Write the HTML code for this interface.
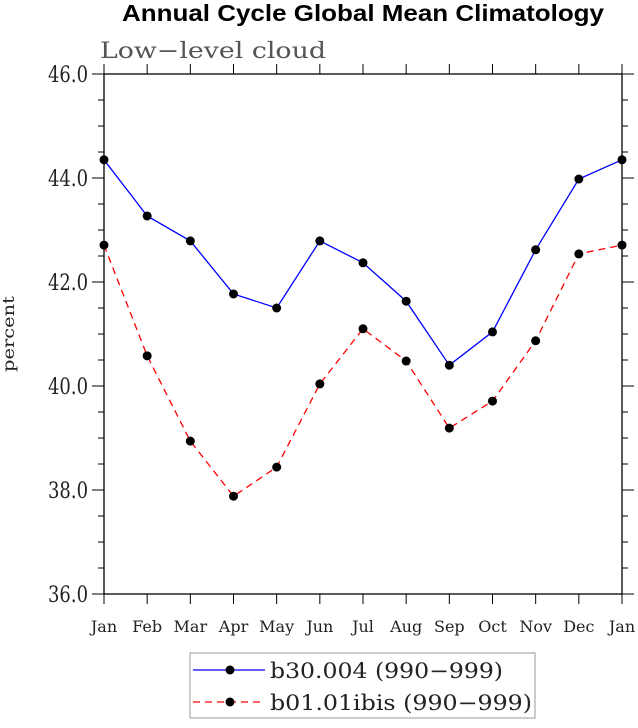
<!DOCTYPE html>
<html><head><meta charset="utf-8"><style>
body{margin:0;background:#fff}
text{font-family:"DejaVu Serif","Liberation Serif",serif}
</style></head><body>
<svg id="c" width="638" height="723" xmlns="http://www.w3.org/2000/svg">
<text x="122" y="21" font-weight="bold" font-size="23" textLength="482" lengthAdjust="spacingAndGlyphs" style="font-family:'Liberation Sans',sans-serif">Annual Cycle Global Mean Climatology</text>
<text x="100" y="58" font-size="22" fill="#555" textLength="226" lengthAdjust="spacingAndGlyphs">Low−level cloud</text>
<text x="14" y="334" font-size="16" fill="#222" text-anchor="middle" textLength="76" lengthAdjust="spacingAndGlyphs" transform="rotate(-90 14 334)">percent</text>
<g id="g"></g>
<rect x="190" y="653" width="345" height="65" fill="none" stroke="#999"/>
<g>
<line x1="193" y1="670" x2="265" y2="670" stroke="#00f" stroke-width="1.3"/>
<circle cx="230" cy="670" r="4.5"/>
<text x="270" y="678" font-size="21" fill="#222" textLength="233" lengthAdjust="spacingAndGlyphs">b30.004 (990−999)</text></g>
<g>
<line x1="193" y1="702" x2="265" y2="702" stroke="#f00" stroke-width="1.3" stroke-dasharray="7,5"/>
<circle cx="230" cy="702" r="4.5"/>
<text x="270" y="710" font-size="21" fill="#222" textLength="262" lengthAdjust="spacingAndGlyphs">b01.01ibis (990−999)</text></g>
</svg>
<script>
const months=["Jan","Feb","Mar","Apr","May","Jun","Jul","Aug","Sep","Oct","Nov","Dec","Jan"];
const seriesB30=[44.35,43.27,42.79,41.77,41.5,42.79,42.37,41.63,40.40,41.04,42.62,43.98,44.35];
const seriesB01=[42.71,40.58,38.94,37.88,38.44,40.04,41.10,40.48,39.19,39.71,40.87,42.54,42.71];
const yTicks=[36,38,40,42,44,46];
const yMin=36,yMax=46;
const L=104,R=622,T=74,B=594;
const X=i=>L+i*(R-L)/(months.length-1);
const Y=v=>B-(v-yMin)/(yMax-yMin)*(B-T);
const NS="http://www.w3.org/2000/svg";
const g=document.getElementById('g');
function mk(t,a,p){const e=document.createElementNS(NS,t);for(const k in a)e.setAttribute(k,a[k]);(p||g).appendChild(e);return e;}
const fr=mk('rect',{x:L,y:T,width:R-L,height:B-T,fill:'none',stroke:'#000','stroke-width':1.3});


months.forEach((m,i)=>{
 mk('line',{x1:X(i),x2:X(i),y1:B,y2:B+10,stroke:'#000'});
 mk('line',{x1:X(i),x2:X(i),y1:T,y2:T-10,stroke:'#000'});
 const t=mk('text',{x:X(i),y:B+38,'text-anchor':'middle','font-size':16,fill:'#222'});t.textContent=m;
 
 
});
for(let v=yMin;v<=yMax+1e-9;v+=0.5){
 const major=yTicks.includes(v);
 if(major){mk('line',{x1:L-12,x2:L,y1:Y(v),y2:Y(v),stroke:'#000'});mk('line',{x1:R,x2:R+12,y1:Y(v),y2:Y(v),stroke:'#000'});}
 else{mk('line',{x1:L,x2:L-6,y1:Y(v),y2:Y(v),stroke:'#000'});mk('line',{x1:R,x2:R+6,y1:Y(v),y2:Y(v),stroke:'#000'});}
}
yTicks.forEach(v=>{const t=mk('text',{x:L-16,y:Y(v)+8,'text-anchor':'end','font-size':22,fill:'#222',textLength:40,lengthAdjust:'spacingAndGlyphs'});t.textContent=v.toFixed(1);
 
 });
function series(d,col,dash,name){
 const pl=mk('polyline',{points:d.map((v,i)=>X(i)+','+Y(v)).join(' '),fill:'none',stroke:col,'stroke-width':1.3,'stroke-dasharray':dash});
 
 
 d.forEach((v,i)=>{const c=mk('circle',{cx:X(i),cy:Y(v),r:4.5});
  
  });
}
series(seriesB01,'#f00','7,5','b01-series');
series(seriesB30,'#00f','none','b30-series');
</script>
</body></html>
